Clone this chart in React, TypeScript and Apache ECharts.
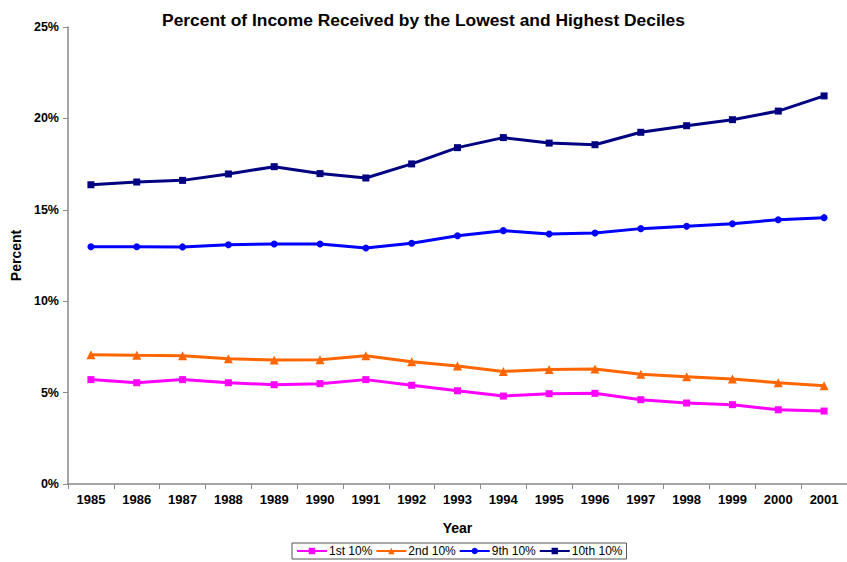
import React, { useEffect, useRef } from "react";
import * as echarts from "echarts";

const years = ["1985","1986","1987","1988","1989","1990","1991","1992","1993","1994","1995","1996","1997","1998","1999","2000","2001"];
const first10 = [5.71,5.54,5.71,5.54,5.43,5.49,5.71,5.40,5.10,4.81,4.94,4.96,4.61,4.43,4.34,4.06,3.99];
const second10 = [7.07,7.04,7.02,6.85,6.78,6.80,7.02,6.69,6.46,6.16,6.27,6.29,6.00,5.87,5.74,5.54,5.38];
const ninth10 = [12.98,12.98,12.97,13.09,13.13,13.13,12.91,13.17,13.58,13.86,13.68,13.73,13.97,14.10,14.24,14.46,14.57];
const tenth10 = [16.37,16.52,16.61,16.96,17.36,16.98,16.74,17.51,18.40,18.95,18.65,18.56,19.24,19.60,19.93,20.40,21.23];
const seriesNames = ["1st 10%","2nd 10%","9th 10%","10th 10%"];
const seriesColors = ["#FF00FF","#FF6600","#0000FF","#000080"];
const seriesSymbols = ["rect","triangle","circle","rect"];

const FONT = "'Liberation Sans', Arial, sans-serif";

export default function App() {
  const ref = useRef<HTMLDivElement>(null);
  useEffect(() => {
    const chart = echarts.init(ref.current!, null, { renderer: "svg" });
    const data = [first10, second10, ninth10, tenth10];
    chart.setOption({
      animation: false,
      backgroundColor: "#ffffff",
      textStyle: { fontFamily: FONT },
      title: {
        text: "Percent of Income Received by the Lowest and Highest Deciles",
        left: "center",
        top: 6,
        textStyle: { fontFamily: FONT, fontSize: 17.4, fontWeight: "bold", color: "#000" },
      },
      grid: { left: 68, right: -2, top: 27, bottom: 78, containLabel: false },
      xAxis: {
        type: "category",
        data: years,
        boundaryGap: true,
        name: "Year",
        nameLocation: "middle",
        nameGap: 37,
        nameTextStyle: { fontFamily: FONT, fontSize: 14, fontWeight: "bold", color: "#000" },
        axisLine: { lineStyle: { color: "#888", width: 1.5 } },
        axisTick: { show: true, length: 5, lineStyle: { color: "#888" } },
        axisLabel: { fontFamily: FONT, fontSize: 13, fontWeight: "bold", color: "#000", margin: 9 },
        splitLine: { show: false },
      },
      yAxis: {
        type: "value",
        min: 0,
        max: 25,
        interval: 5,
        name: "Percent",
        nameLocation: "middle",
        nameGap: 44,
        nameTextStyle: { fontFamily: FONT, fontSize: 14, fontWeight: "bold", color: "#000" },
        axisLine: { show: true, lineStyle: { color: "#888", width: 1.5 } },
        axisTick: { show: true, length: 5, lineStyle: { color: "#888" } },
        axisLabel: { fontFamily: FONT, fontSize: 12.5, fontWeight: "bold", color: "#000", margin: 9, formatter: "{value}%" },
        splitLine: { show: false },
      },
      legend: {
        bottom: 3,
        left: 292,
        data: seriesNames,
        itemWidth: 30,
        itemHeight: 8,
        itemGap: 3,
        padding: [2, 4],
        borderColor: "#555",
        borderWidth: 1,
        textStyle: { fontFamily: FONT, fontSize: 12, color: "#000", padding: [0, 0, 0, -3] },
      },
      series: seriesNames.map((name, i) => ({
        name,
        type: "line",
        data: data[i],
        symbol: seriesSymbols[i],
        symbolSize: seriesSymbols[i] === "triangle" ? 9 : 7,
        showSymbol: true,
        lineStyle: { color: seriesColors[i], width: 3 },
        itemStyle: { color: seriesColors[i] },
      })),
    });
    return () => chart.dispose();
  }, []);
  return <div ref={ref} style={{ width: 847, height: 562, position: "absolute", left: 0, top: 0 }} />;
}
